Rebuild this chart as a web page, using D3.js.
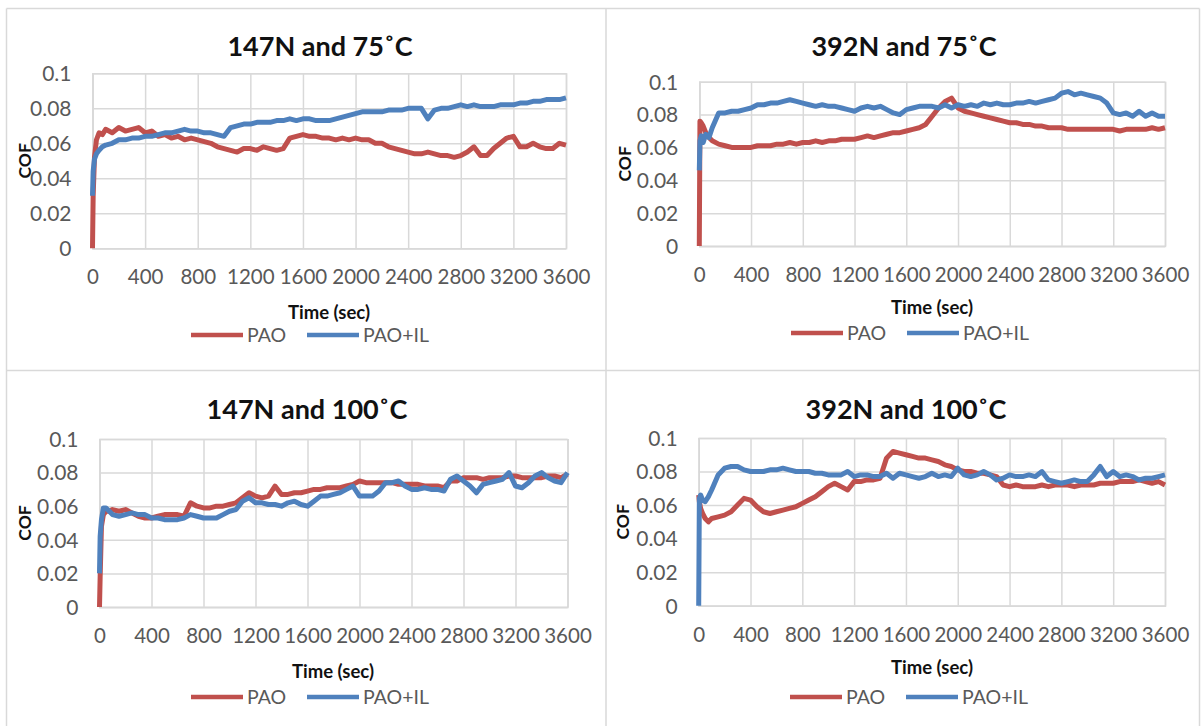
<!DOCTYPE html>
<html><head><meta charset="utf-8">
<script src="https://cdn.jsdelivr.net/npm/d3@7"></script>
<style>
body{margin:0;background:#fff}
svg{display:block}
text{font-family:Lato,"Open Sans",sans-serif}
</style>
</head><body>
<svg id="c" width="1202" height="726"></svg>
<script>
// ---------- DATA ----------
const seriesNames = ["PAO", "PAO+IL"];
const panelTitles = ["147N and 75\u02DAC", "392N and 75\u02DAC", "147N and 100\u02DAC", "392N and 100\u02DAC"];
const xAxisTitle = "Time (sec)";
const yAxisTitle = "COF";
const xTickValues = [0, 400, 800, 1200, 1600, 2000, 2400, 2800, 3200, 3600];
const xTickLabels = ["0", "400", "800", "1200", "1600", "2000", "2400", "2800", "3200", "3600"];
const yTickValues = [0, 0.02, 0.04, 0.06, 0.08, 0.1];
const yTickLabels = ["0", "0.02", "0.04", "0.06", "0.08", "0.1"];

// time (sec) of the sampled points
const time = [
  0, 5, 15, 30, 50, 75, 100, 150, 200, 250,
  300, 350, 400, 450, 500, 550, 600, 650, 700, 750,
  800, 850, 900, 950, 1000, 1050, 1100, 1150, 1200, 1250,
  1300, 1350, 1400, 1450, 1500, 1550, 1600, 1650, 1700, 1750,
  1800, 1850, 1900, 1950, 2000, 2050, 2100, 2150, 2200, 2250,
  2300, 2350, 2400, 2450, 2500, 2550, 2600, 2650, 2700, 2750,
  2800, 2850, 2900, 2950, 3000, 3050, 3100, 3150, 3200, 3250,
  3300, 3350, 3400, 3450, 3500, 3550, 3600
];

// 147N and 75 C
const pao_147_75 = [
  0, .030, .052, .062, .066, .065, .068, .066, .069, .067,
  .068, .069, .066, .067, .064, .065, .063, .064, .062, .063,
  .062, .061, .060, .058, .057, .056, .055, .057, .057, .056,
  .058, .057, .056, .057, .063, .064, .065, .064, .064, .063,
  .063, .062, .063, .062, .063, .062, .062, .060, .060, .058,
  .057, .056, .055, .054, .054, .055, .054, .053, .053, .052,
  .053, .055, .058, .053, .053, .057, .060, .063, .064, .058,
  .058, .060, .058, .057, .057, .060, .059
];
const paoil_147_75 = [
  .030, .044, .051, .054, .056, .058, .059, .060, .062, .062,
  .063, .063, .064, .064, .065, .066, .066, .067, .068, .067,
  .067, .066, .066, .065, .064, .069, .070, .071, .071, .072,
  .072, .072, .073, .073, .074, .073, .074, .074, .073, .073,
  .073, .074, .075, .076, .077, .078, .078, .078, .078, .079,
  .079, .079, .080, .080, .080, .074, .079, .080, .080, .081,
  .082, .081, .082, .081, .081, .081, .082, .082, .082, .083,
  .083, .084, .084, .085, .085, .085, .086
];

// 392N and 75 C
const pao_392_75 = [
  0, .076, .075, .073, .069, .066, .064, .062, .061, .060,
  .060, .060, .060, .061, .061, .061, .062, .062, .063, .062,
  .063, .063, .064, .063, .064, .064, .065, .065, .065, .066,
  .067, .066, .067, .068, .069, .069, .070, .071, .072, .074,
  .079, .084, .088, .090, .084, .082, .081, .080, .079, .078,
  .077, .076, .075, .075, .074, .074, .073, .073, .072, .072,
  .072, .071, .071, .071, .071, .071, .071, .071, .071, .070,
  .071, .071, .071, .071, .072, .071, .072
];
const paoil_392_75 = [
  .046, .064, .067, .063, .068, .066, .072, .081, .081, .082,
  .082, .083, .084, .086, .086, .087, .087, .088, .089, .088,
  .087, .086, .085, .086, .085, .085, .084, .083, .082, .084,
  .085, .084, .085, .083, .081, .080, .083, .084, .085, .085,
  .085, .084, .086, .084, .086, .085, .086, .085, .087, .086,
  .087, .086, .086, .087, .087, .088, .087, .088, .089, .090,
  .093, .094, .092, .093, .092, .091, .090, .087, .081, .080,
  .081, .079, .082, .079, .081, .079, .079
];

// 147N and 100 C
const pao_147_100 = [
  0, .018, .048, .055, .057, .057, .058, .057, .058, .056,
  .054, .053, .053, .054, .055, .055, .055, .054, .062, .060,
  .059, .059, .060, .060, .061, .062, .065, .068, .066, .065,
  .066, .072, .067, .067, .068, .068, .069, .070, .070, .071,
  .071, .071, .072, .073, .075, .074, .074, .074, .074, .074,
  .073, .073, .073, .073, .072, .072, .072, .071, .075, .075,
  .077, .077, .077, .076, .077, .077, .077, .078, .078, .077,
  .077, .077, .077, .078, .078, .077, .079
];
const paoil_147_100 = [
  .020, .042, .052, .059, .059, .057, .055, .054, .055, .056,
  .055, .055, .053, .053, .052, .052, .052, .053, .055, .054,
  .053, .053, .053, .055, .057, .058, .063, .065, .062, .062,
  .061, .061, .060, .062, .063, .061, .060, .063, .066, .066,
  .067, .068, .070, .072, .066, .066, .066, .069, .074, .074,
  .075, .072, .070, .070, .071, .070, .070, .069, .076, .078,
  .075, .072, .068, .073, .074, .075, .076, .080, .072, .071,
  .074, .078, .080, .077, .075, .074, .080
];

// 392N and 100 C
const pao_392_100 = [
  .066, .062, .058, .055, .052, .050, .052, .053, .054, .056,
  .060, .064, .063, .059, .056, .055, .056, .057, .058, .059,
  .061, .063, .065, .068, .071, .073, .071, .069, .074, .074,
  .075, .075, .076, .088, .092, .091, .090, .089, .088, .088,
  .087, .086, .084, .083, .081, .080, .080, .079, .079, .078,
  .077, .072, .071, .072, .071, .071, .071, .072, .071, .072,
  .072, .072, .071, .072, .072, .072, .073, .073, .073, .074,
  .074, .074, .075, .074, .073, .074, .072
];
const paoil_392_100 = [
  0, .064, .066, .063, .062, .065, .069, .078, .082, .083,
  .083, .081, .080, .080, .080, .081, .081, .082, .081, .080,
  .080, .080, .079, .079, .078, .078, .078, .080, .077, .078,
  .078, .077, .077, .079, .076, .079, .078, .077, .076, .077,
  .079, .077, .078, .077, .082, .078, .077, .078, .080, .078,
  .075, .076, .078, .077, .077, .078, .077, .080, .075, .074,
  .073, .074, .075, .074, .074, .078, .083, .077, .080, .077,
  .078, .077, .075, .076, .076, .077, .078
];

const panelSeries = [
  [pao_147_75, paoil_147_75],
  [pao_392_75, paoil_392_75],
  [pao_147_100, paoil_147_100],
  [pao_392_100, paoil_392_100]
];

// ---------- LAYOUT / STYLE ----------
const colors = ["#C0504D", "#4F81BD"];
const gridColor = "#d9d9d9";
const labelColor = "#595959";
const layouts = [
  {l: 92.5, r: 566, t: 73.3, b: 248.3, titleX: 320, titleY: 47, cofX: 25, timeX: 329, timeY: 313, legX: 191, legY: 335},
  {l: 699.3, r: 1165, t: 81.7, b: 246, titleX: 904, titleY: 47, cofX: 625, timeX: 932, timeY: 308, legX: 791, legY: 333},
  {l: 99.5, r: 567.5, t: 439, b: 607, titleX: 307, titleY: 410, cofX: 25, timeX: 333, timeY: 672, legX: 191, legY: 697},
  {l: 698.7, r: 1165, t: 438, b: 605.7, titleX: 906, titleY: 410, cofX: 623, timeX: 932, timeY: 668, legX: 790, legY: 697}
];

const svg = d3.select("#c");

// panel frame lines
const frame = svg.append("g").attr("stroke", gridColor).attr("stroke-width", 1.5).attr("fill", "none");
frame.append("line").attr("x1", 6.5).attr("x2", 1199.5).attr("y1", 8.5).attr("y2", 8.5);
frame.append("line").attr("x1", 6.5).attr("x2", 6.5).attr("y1", 8.5).attr("y2", 726);
frame.append("line").attr("x1", 1199.5).attr("x2", 1199.5).attr("y1", 8.5).attr("y2", 726);
frame.append("line").attr("x1", 606).attr("x2", 606).attr("y1", 8.5).attr("y2", 726);
frame.append("line").attr("x1", 6.5).attr("x2", 1199.5).attr("y1", 370.5).attr("y2", 370.5);

layouts.forEach((L, pi) => {
  const g = svg.append("g");
  const x = d3.scaleLinear().domain([0, 3600]).range([L.l, L.r]);
  const y = d3.scaleLinear().domain([0, 0.1]).range([L.b, L.t]);

  // vertical gridlines + x labels
  const xa = g.append("g").attr("transform", `translate(0,${L.b})`)
    .call(d3.axisBottom(x).tickValues(xTickValues).tickSize(-(L.b - L.t)).tickPadding(0)
      .tickFormat((d, i) => xTickLabels[i]));
  xa.select(".domain").attr("stroke", gridColor).attr("stroke-width", 1.5);
  xa.selectAll(".tick line").attr("stroke", gridColor).attr("stroke-width", 1.5);
  xa.selectAll(".tick text").attr("fill", labelColor).attr("font-size", 20.5)
    .attr("y", 29).attr("dy", "0.35em");

  // horizontal gridlines + y labels
  const ya = g.append("g").attr("transform", `translate(${L.l},0)`)
    .call(d3.axisLeft(y).tickValues(yTickValues).tickSize(-(L.r - L.l)).tickPadding(0)
      .tickFormat((d, i) => yTickLabels[i]));
  ya.select(".domain").attr("stroke", gridColor).attr("stroke-width", 1.5);
  ya.selectAll(".tick line").attr("stroke", gridColor).attr("stroke-width", 1.5);
  ya.selectAll(".tick text").attr("fill", labelColor).attr("font-size", 21)
    .attr("x", -21).attr("dy", "0.35em");

  // series lines
  const line = d3.line().x((d, i) => x(time[i])).y(d => y(d));
  panelSeries[pi].forEach((vals, si) => {
    g.append("path").datum(vals).attr("d", line)
      .attr("fill", "none").attr("stroke", colors[si]).attr("stroke-width", 5)
      .attr("stroke-linejoin", "round").attr("stroke-linecap", "butt");
  });

  // title
  g.append("text").attr("x", L.titleX).attr("y", L.titleY).attr("dy", "0.35em")
    .attr("text-anchor", "middle").attr("font-size", 27).attr("font-weight", "bold")
    .attr("fill", "#111").text(panelTitles[pi]);

  // axis titles
  g.append("text").attr("transform", `translate(${L.cofX},${(L.t + L.b) / 2}) rotate(-90)`)
    .attr("dy", "0.35em").attr("text-anchor", "middle").attr("font-size", 17.5)
    .attr("font-weight", "bold").attr("fill", "#111").text(yAxisTitle);
  g.append("text").attr("x", L.timeX).attr("y", L.timeY).attr("dy", "0.35em")
    .attr("text-anchor", "middle").attr("font-size", 18.5).attr("font-weight", "bold")
    .attr("fill", "#111").text(xAxisTitle);

  // legend
  const lg = g.append("g");
  const offs = [0, 116];
  seriesNames.forEach((name, si) => {
    const x0 = L.legX + offs[si];
    lg.append("line").attr("x1", x0).attr("x2", x0 + 52).attr("y1", L.legY).attr("y2", L.legY)
      .attr("stroke", colors[si]).attr("stroke-width", 4.5);
    lg.append("text").attr("x", x0 + 56).attr("y", L.legY).attr("dy", "0.35em")
      .attr("font-size", 19.5).attr("fill", labelColor).text(name);
  });
});
</script>
</body></html>
